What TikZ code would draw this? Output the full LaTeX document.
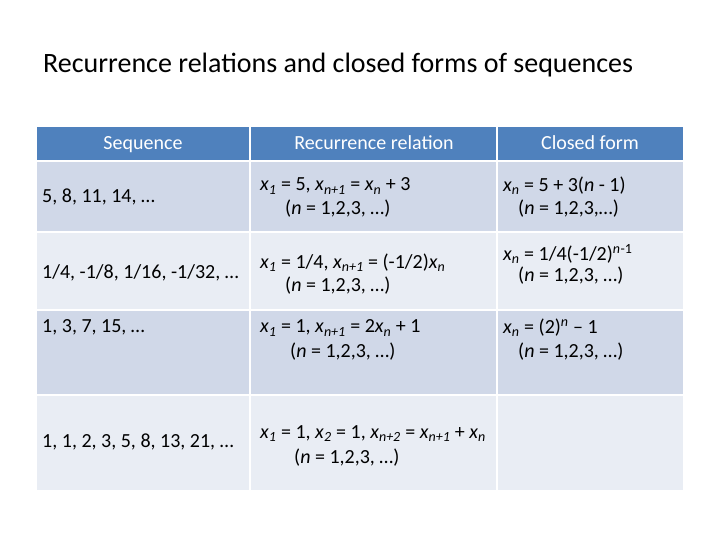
\documentclass[tikz,border=0pt]{standalone}
\usepackage{fontspec}
\setmainfont{Carlito}
\definecolor{hdr}{HTML}{4F81BD}
\definecolor{rowa}{HTML}{D0D8E8}
\definecolor{rowb}{HTML}{E9EDF4}
\newcommand{\sbs}[1]{\textsubscript{\itshape #1}}
\newcommand{\sps}[1]{\textsuperscript{\itshape #1}}
\begin{document}
\begin{tikzpicture}[x=1pt,y=-1pt,
  txt/.style={anchor=west,inner sep=0pt,font=\fontsize{20}{22}\selectfont},
  hd/.style={anchor=base,inner sep=0pt,text=white,font=\fontsize{20}{22}\selectfont}]
\useasboundingbox[fill=white] (0,0) rectangle (720,540);
\node[anchor=west,inner sep=0pt,font=\fontsize{28}{32}\selectfont] (title) at (43,65) {Recurrence relations and closed forms of sequences};
% cells
\foreach \xa/\xb in {37/249,251/496,498/683}{
  \fill[hdr] (\xa,127) rectangle (\xb,160);
  \fill[rowa] (\xa,162) rectangle (\xb,231);
  \fill[rowb] (\xa,233) rectangle (\xb,309);
  \fill[rowa] (\xa,311) rectangle (\xb,394);
  \fill[rowb] (\xa,396) rectangle (\xb,490);
}
\node[hd] (h1) at (143,150) {Sequence};
\node[hd] (h2) at (374,150) {Recurrence relation};
\node[hd] (h3) at (590,150) {Closed form};
% row 1
\node[txt] (s1) at (42,197) {5, 8, 11, 14, …};
\node[txt] (r1a) at (260,186) {\textit{x}\sbs{1} = 5, \textit{x}\sbs{n+1} = \textit{x}\sbs{n} + 3};
\node[txt] (r1b) at (285,209) {(\textit{n} = 1,2,3, …)};
\node[txt] (c1a) at (503,186) {\textit{x}\sbs{n} = 5 + 3(\textit{n} - 1)};
\node[txt] (c1b) at (518,209) {(\textit{n} = 1,2,3,…)};
% row 2
\node[txt] (s2) at (42,273) {1/4, -1/8, 1/16, -1/32, …};
\node[txt] (r2a) at (260,263) {\textit{x}\sbs{1} = 1/4, \textit{x}\sbs{n+1} = (-1/2)\textit{x}\sbs{n}};
\node[txt] (r2b) at (285,286) {(\textit{n} = 1,2,3, …)};
\node[txt] (c2a) at (503,254) {\textit{x}\sbs{n} = 1/4(-1/2)\sps{n}\textsuperscript{-1}};
\node[txt] (c2b) at (518,276) {(\textit{n} = 1,2,3, …)};
% row 3
\node[txt] (s3) at (42,327) {1, 3, 7, 15, …};
\node[txt] (r3a) at (260,328) {\textit{x}\sbs{1} = 1, \textit{x}\sbs{n+1} = 2\textit{x}\sbs{n} + 1};
\node[txt] (r3b) at (290,352) {(\textit{n} = 1,2,3, …)};
\node[txt] (c3a) at (503,328) {\textit{x}\sbs{n} = (2)\sps{n} – 1};
\node[txt] (c3b) at (518,352) {(\textit{n} = 1,2,3, …)};
% row 4
\node[txt] (s4) at (42,442) {1, 1, 2, 3, 5, 8, 13, 21, …};
\node[txt] (r4a) at (260,434) {\textit{x}\sbs{1} = 1, \textit{x}\sbs{2} = 1, \textit{x}\sbs{n+2} = \textit{x}\sbs{n+1} + \textit{x}\sbs{n}};
\node[txt] (r4b) at (294,458) {(\textit{n} = 1,2,3, …)};
\end{tikzpicture}
\end{document}
